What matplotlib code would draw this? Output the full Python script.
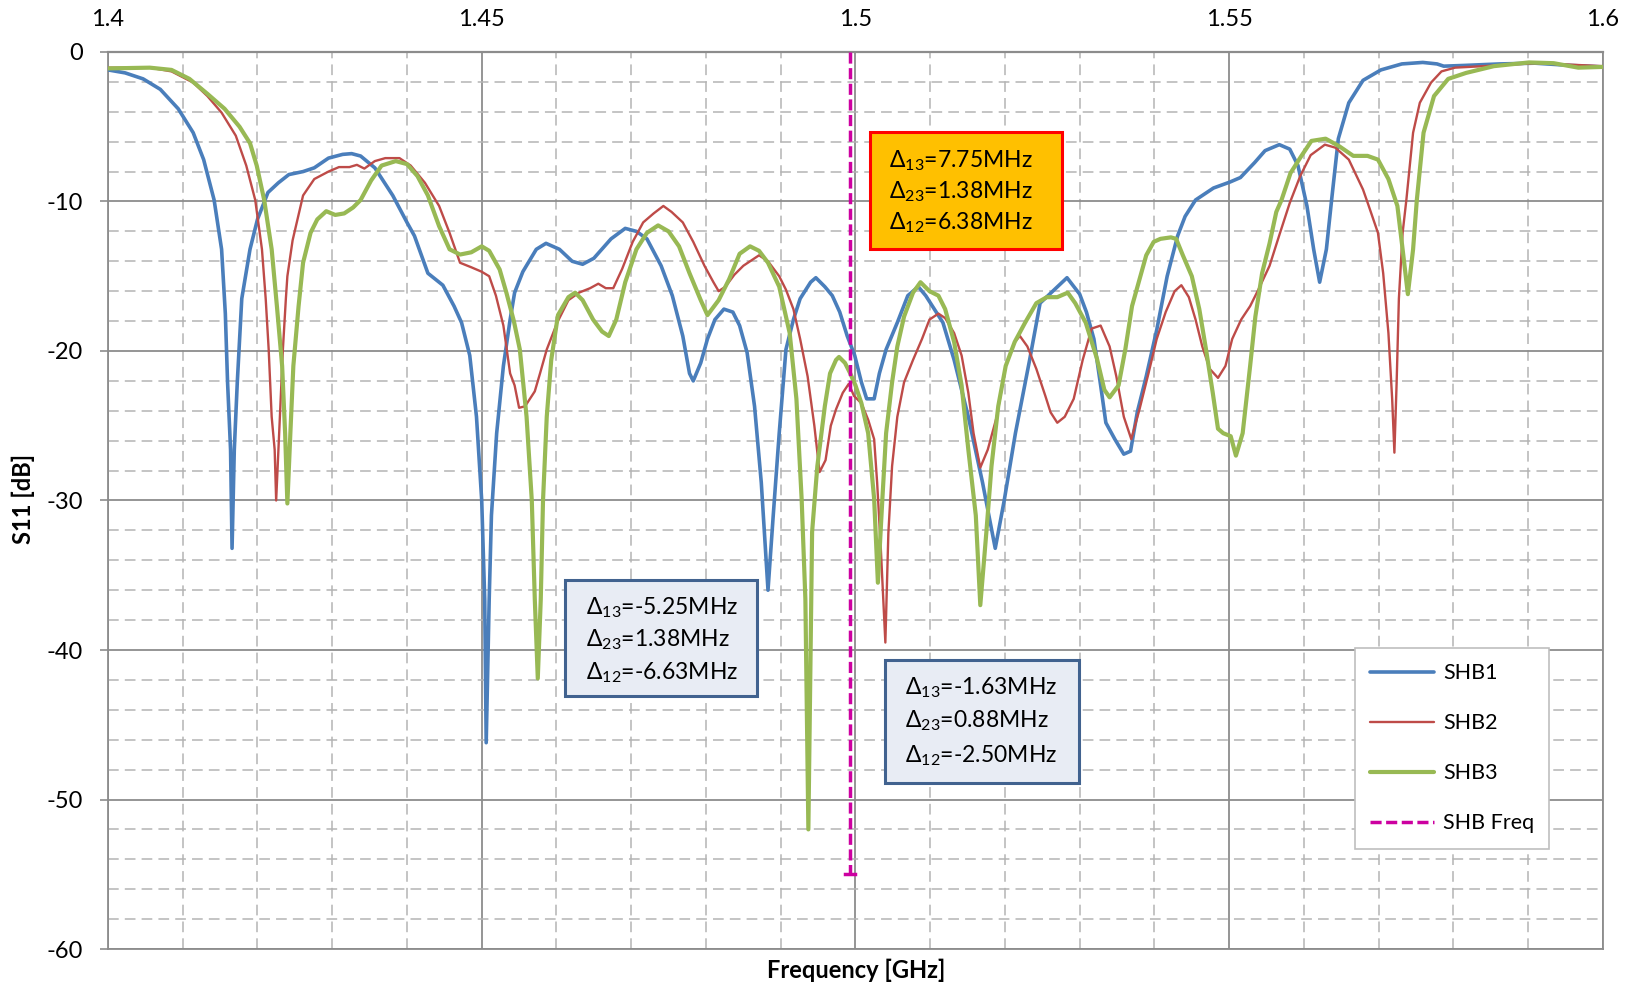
import numpy as np
import matplotlib
matplotlib.use('Agg')
import matplotlib.pyplot as plt
from matplotlib.patches import Rectangle
from matplotlib.ticker import MultipleLocator

plt.rcParams['font.family'] = ['Lato', 'DejaVu Sans']
plt.rcParams['axes.unicode_minus'] = False
plt.rcParams['mathtext.fontset'] = 'custom'
plt.rcParams['mathtext.rm'] = 'Lato'
plt.rcParams['mathtext.it'] = 'Lato'

# --- measured S11 curves (frequency in GHz, S11 in dB) ---
f_shb1 = [1.4000, 1.4023, 1.4047, 1.4070, 1.4094, 1.4114, 1.4128, 1.4142, 1.4152, 1.4157,
          1.4160, 1.4164, 1.4166, 1.4169, 1.4173, 1.4179, 1.4190, 1.4200, 1.4214, 1.4228,
          1.4242, 1.4261, 1.4276, 1.4295, 1.4314, 1.4326, 1.4338, 1.4357, 1.4381, 1.4400,
          1.4410, 1.4428, 1.4448, 1.4463, 1.4473, 1.4484, 1.4493, 1.4500, 1.4504, 1.4506,
          1.4510, 1.4513, 1.4520, 1.4529, 1.4538, 1.4544, 1.4555, 1.4573, 1.4586, 1.4604,
          1.4621, 1.4635, 1.4650, 1.4673, 1.4692, 1.4707, 1.4721, 1.4740, 1.4755, 1.4769,
          1.4778, 1.4783, 1.4793, 1.4802, 1.4812, 1.4824, 1.4836, 1.4845, 1.4855, 1.4865,
          1.4874, 1.4883, 1.4890, 1.4898, 1.4907, 1.4917, 1.4926, 1.4940, 1.4947, 1.4959,
          1.4969, 1.4979, 1.4989, 1.4999, 1.5008, 1.5015, 1.5025, 1.5032, 1.5041, 1.5056,
          1.5070, 1.5084, 1.5094, 1.5103, 1.5117, 1.5132, 1.5151, 1.5170, 1.5187, 1.5199,
          1.5214, 1.5233, 1.5247, 1.5266, 1.5283, 1.5300, 1.5309, 1.5319, 1.5328, 1.5335,
          1.5347, 1.5359, 1.5368, 1.5377, 1.5389, 1.5403, 1.5417, 1.5431, 1.5441, 1.5455,
          1.5479, 1.5501, 1.5515, 1.5534, 1.5548, 1.5567, 1.5581, 1.5592, 1.5604, 1.5613,
          1.5621, 1.5630, 1.5637, 1.5646, 1.5660, 1.5679, 1.5703, 1.5731, 1.5759, 1.5778,
          1.5787, 1.5815, 1.5862, 1.5909, 1.5956, 1.6000]
s_shb1 = [-1.2, -1.4, -1.8, -2.5, -3.8, -5.4, -7.2, -9.9, -13.2, -17.5,
          -22.1, -26.6, -33.2, -26.6, -22.1, -16.5, -13.2, -11.2, -9.4, -8.75,
          -8.2, -8.0, -7.75, -7.1, -6.85, -6.8, -6.96, -7.75, -9.6, -11.4,
          -12.3, -14.8, -15.6, -17.0, -18.1, -20.3, -24.4, -30.0, -36.6, -46.2,
          -36.6, -31.0, -25.5, -21.0, -17.9, -16.1, -14.7, -13.2, -12.8, -13.2,
          -14.0, -14.2, -13.8, -12.5, -11.8, -12.0, -12.5, -14.3, -16.3, -19.0,
          -21.5, -22.0, -20.8, -19.2, -17.9, -17.2, -17.4, -18.3, -20.1, -23.7,
          -28.8, -36.0, -31.0, -25.5, -19.9, -17.9, -16.5, -15.4, -15.1, -15.7,
          -16.3, -17.4, -19.0, -20.3, -22.1, -23.2, -23.2, -21.5, -19.9, -18.1,
          -16.3, -15.7, -16.3, -17.0, -18.1, -20.6, -24.4, -28.8, -33.2, -30.0,
          -25.5, -20.6, -16.8, -15.9, -15.1, -16.2, -17.4, -19.2, -22.3, -24.8,
          -25.9, -26.9, -26.7, -24.1, -21.7, -18.6, -15.0, -12.3, -11.0, -9.9,
          -9.1, -8.7, -8.4, -7.4, -6.6, -6.2, -6.5, -7.6, -10.3, -13.2,
          -15.4, -13.2, -9.9, -5.8, -3.4, -1.9, -1.2, -0.8, -0.7, -0.8,
          -0.95, -0.9, -0.8, -0.75, -0.9, -1.0]

f_shb2 = [1.4000, 1.4056, 1.4085, 1.4114, 1.4133, 1.4152, 1.4171, 1.4185, 1.4197, 1.4206,
          1.4211, 1.4215, 1.4219, 1.4223, 1.4225, 1.4231, 1.4234, 1.4238, 1.4240, 1.4247,
          1.4261, 1.4276, 1.4295, 1.4309, 1.4323, 1.4333, 1.4343, 1.4357, 1.4371, 1.4390,
          1.4405, 1.4424, 1.4443, 1.4457, 1.4471, 1.4486, 1.4500, 1.4510, 1.4519, 1.4529,
          1.4538, 1.4544, 1.4550, 1.4558, 1.4567, 1.4571, 1.4578, 1.4587, 1.4601, 1.4616,
          1.4630, 1.4645, 1.4656, 1.4666, 1.4676, 1.4688, 1.4702, 1.4716, 1.4730, 1.4743,
          1.4754, 1.4769, 1.4783, 1.4798, 1.4810, 1.4817, 1.4826, 1.4838, 1.4850, 1.4862,
          1.4871, 1.4883, 1.4898, 1.4907, 1.4917, 1.4926, 1.4936, 1.4945, 1.4952, 1.4960,
          1.4967, 1.4974, 1.4983, 1.4991, 1.4998, 1.5008, 1.5017, 1.5025, 1.5029, 1.5034,
          1.5040, 1.5044, 1.5049, 1.5056, 1.5065, 1.5077, 1.5089, 1.5099, 1.5111, 1.5120,
          1.5132, 1.5142, 1.5151, 1.5158, 1.5167, 1.5177, 1.5189, 1.5201, 1.5213, 1.5220,
          1.5230, 1.5242, 1.5254, 1.5261, 1.5270, 1.5280, 1.5292, 1.5304, 1.5316, 1.5328,
          1.5340, 1.5349, 1.5359, 1.5369, 1.5380, 1.5392, 1.5403, 1.5415, 1.5427, 1.5436,
          1.5446, 1.5455, 1.5464, 1.5474, 1.5485, 1.5495, 1.5504, 1.5516, 1.5528, 1.5539,
          1.5554, 1.5568, 1.5581, 1.5595, 1.5609, 1.5628, 1.5642, 1.5660, 1.5679, 1.5686,
          1.5699, 1.5706, 1.5713, 1.5718, 1.5721, 1.5724, 1.5727, 1.5732, 1.5737, 1.5746,
          1.5755, 1.5770, 1.5784, 1.5802, 1.5840, 1.5910, 1.5957, 1.6000]
s_shb2 = [-1.05, -1.05, -1.3, -2.05, -2.95, -4.06, -5.6, -7.6, -9.9, -13.2,
          -16.5, -19.9, -24.4, -26.6, -30.0, -23.2, -19.9, -16.5, -15.0, -12.6,
          -9.6, -8.5, -8.0, -7.7, -7.7, -7.55, -7.8, -7.3, -7.1, -7.1,
          -7.6, -8.75, -10.3, -12.1, -14.1, -14.4, -14.7, -15.0, -16.3, -18.3,
          -21.5, -22.3, -23.8, -23.7, -23.0, -22.7, -21.5, -19.9, -18.1, -16.6,
          -16.1, -15.8, -15.5, -15.8, -15.8, -14.5, -12.7, -11.4, -10.8, -10.3,
          -10.7, -11.4, -12.7, -14.3, -15.4, -16.0, -15.7, -14.9, -14.3, -13.9,
          -13.6, -14.0, -15.0, -15.9, -17.2, -19.2, -21.7, -25.0, -28.1, -27.3,
          -25.0, -23.9, -22.8, -22.2, -23.0, -23.5, -24.6, -25.9, -28.8, -33.3,
          -39.5, -32.2, -27.7, -24.4, -22.1, -20.6, -19.2, -17.9, -17.5, -17.8,
          -18.8, -20.3, -22.8, -25.5, -27.8, -26.6, -24.4, -21.0, -19.4, -19.0,
          -19.7, -21.2, -23.0, -24.1, -24.8, -24.4, -23.2, -20.6, -18.5, -18.3,
          -19.7, -21.7, -24.4, -25.9, -23.9, -21.5, -19.2, -17.4, -16.0, -15.6,
          -16.4, -17.9, -19.7, -21.2, -21.8, -21.0, -19.2, -17.9, -17.0, -15.9,
          -14.3, -12.1, -10.1, -8.3, -6.9, -6.2, -6.4, -7.2, -9.2, -10.2,
          -12.1, -14.8, -18.8, -23.2, -26.8, -22.1, -16.5, -12.1, -9.9, -5.4,
          -3.4, -2.05, -1.3, -1.05, -0.95, -0.75, -0.85, -0.95]

f_shb3 = [1.4000, 1.4056, 1.4085, 1.4109, 1.4133, 1.4156, 1.4176, 1.4190, 1.4199, 1.4209,
          1.4219, 1.4226, 1.4233, 1.4237, 1.4240, 1.4244, 1.4248, 1.4255, 1.4261, 1.4271,
          1.4280, 1.4292, 1.4304, 1.4316, 1.4328, 1.4338, 1.4352, 1.4366, 1.4385, 1.4400,
          1.4414, 1.4428, 1.4443, 1.4457, 1.4471, 1.4486, 1.4500, 1.4510, 1.4524, 1.4533,
          1.4543, 1.4551, 1.4560, 1.4567, 1.4571, 1.4575, 1.4579, 1.4582, 1.4587, 1.4593,
          1.4602, 1.4616, 1.4625, 1.4635, 1.4649, 1.4661, 1.4670, 1.4680, 1.4692, 1.4707,
          1.4721, 1.4736, 1.4750, 1.4764, 1.4778, 1.4793, 1.4802, 1.4817, 1.4831, 1.4845,
          1.4859, 1.4871, 1.4883, 1.4898, 1.4912, 1.4921, 1.4928, 1.4933, 1.4937, 1.4942,
          1.4949, 1.4959, 1.4966, 1.4974, 1.4978, 1.4986, 1.4993, 1.5000, 1.5008, 1.5017,
          1.5025, 1.5030, 1.5036, 1.5041, 1.5049, 1.5056, 1.5065, 1.5077, 1.5087, 1.5099,
          1.5111, 1.5120, 1.5132, 1.5142, 1.5151, 1.5161, 1.5167, 1.5175, 1.5182, 1.5191,
          1.5201, 1.5213, 1.5227, 1.5242, 1.5256, 1.5270, 1.5284, 1.5294, 1.5308, 1.5323,
          1.5333, 1.5340, 1.5352, 1.5361, 1.5370, 1.5380, 1.5389, 1.5399, 1.5408, 1.5422,
          1.5429, 1.5438, 1.5450, 1.5460, 1.5469, 1.5478, 1.5485, 1.5492, 1.5502, 1.5509,
          1.5518, 1.5528, 1.5535, 1.5544, 1.5554, 1.5563, 1.5570, 1.5582, 1.5596, 1.5610,
          1.5629, 1.5647, 1.5666, 1.5685, 1.5699, 1.5713, 1.5725, 1.5732, 1.5739, 1.5746,
          1.5751, 1.5760, 1.5774, 1.5793, 1.5817, 1.5854, 1.5901, 1.5934, 1.5967, 1.6000]
s_shb3 = [-1.1, -1.05, -1.2, -1.8, -2.8, -3.8, -5.0, -6.1, -7.6, -9.9,
          -13.2, -17.0, -21.0, -25.5, -30.2, -25.5, -21.0, -17.0, -14.1, -12.1,
          -11.2, -10.65, -10.9, -10.8, -10.4, -9.9, -8.6, -7.6, -7.3, -7.5,
          -8.3, -9.6, -11.65, -13.2, -13.55, -13.4, -13.0, -13.3, -14.55, -16.1,
          -18.0, -19.9, -24.4, -30.0, -36.6, -41.9, -36.6, -30.0, -24.4, -20.6,
          -17.6, -16.4, -16.1, -16.6, -17.9, -18.7, -19.0, -17.9, -15.4, -13.2,
          -12.1, -11.6, -12.0, -13.0, -14.8, -16.6, -17.6, -16.6, -15.2, -13.5,
          -13.0, -13.3, -14.1, -15.7, -18.8, -23.2, -29.9, -36.6, -52.0, -32.1,
          -27.7, -23.7, -21.5, -20.6, -20.4, -20.8, -21.5, -22.3, -23.5, -25.5,
          -29.9, -35.5, -29.9, -25.5, -22.1, -19.7, -17.7, -16.1, -15.4, -16.0,
          -16.3, -17.2, -19.4, -22.3, -26.6, -31.0, -37.0, -32.2, -27.7, -23.7,
          -21.0, -19.4, -18.1, -16.8, -16.4, -16.4, -16.1, -16.8, -18.1, -20.5,
          -22.6, -23.1, -22.3, -19.9, -17.0, -15.2, -13.6, -12.7, -12.5, -12.4,
          -12.5, -13.6, -15.0, -17.2, -19.9, -22.8, -25.2, -25.5, -25.7, -27.0,
          -25.5, -21.0, -17.7, -14.8, -12.8, -10.7, -9.9, -8.1, -7.0, -5.95,
          -5.8, -6.3, -6.95, -6.95, -7.2, -8.5, -10.3, -13.2, -16.2, -13.2,
          -9.9, -5.4, -2.95, -1.8, -1.4, -0.95, -0.7, -0.75, -1.05, -1.0]

shb_freq = 1.4993
shb_freq_span = [0, -55]

# text boxes: frequency offsets shown in each box
box_texts = [
    ['Δ$_{13}$=7.75MHz', 'Δ$_{23}$=1.38MHz', 'Δ$_{12}$=6.38MHz'],
    ['Δ$_{13}$=-5.25MHz', 'Δ$_{23}$=1.38MHz', 'Δ$_{12}$=-6.63MHz'],
    ['Δ$_{13}$=-1.63MHz', 'Δ$_{23}$=0.88MHz', 'Δ$_{12}$=-2.50MHz'],
]

fig = plt.figure(figsize=(16.31, 9.86), dpi=100)
ax = fig.add_axes([0.0662, 0.0375, 0.9166, 0.9098])

grid_major = '#8C8C8C'
grid_minor = '#B4B4B4'

ax.set_xlim(1.4, 1.6)
ax.set_ylim(-60, 0)
ax.xaxis.set_minor_locator(MultipleLocator(0.01))
ax.yaxis.set_major_locator(MultipleLocator(10))
ax.yaxis.set_minor_locator(MultipleLocator(2))
ax.xaxis.tick_top()
ax.set_xticks([1.4, 1.45, 1.5, 1.55, 1.6])
ax.set_xticklabels(['1.4', '1.45', '1.5', '1.55', '1.6'])
ax.tick_params(axis='x', which='both', length=0, pad=16, labelsize=17)
ax.tick_params(axis='y', which='major', length=6, width=1.2, color=grid_major,
               pad=12, labelsize=17, direction='out')
ax.tick_params(axis='y', which='minor', length=0)

ax.grid(True, which='major', color=grid_major, lw=1.3, ls='-', zorder=0)
ax.grid(True, which='minor', color=grid_minor, lw=1.1, ls=(0, (7, 4)), zorder=0)
ax.set_axisbelow(True)
for sp in ax.spines.values():
    sp.set_color(grid_major)
    sp.set_linewidth(1.3)
ax.spines['top'].set_linewidth(1.6)

# curves
ax.plot(f_shb1, s_shb1, color='#4A7EBB', lw=2.6, label='SHB1',
        solid_joinstyle='round', solid_capstyle='round', zorder=3)
ax.plot(f_shb2, s_shb2, color='#BE4B48', lw=1.7, label='SHB2',
        solid_joinstyle='round', solid_capstyle='round', zorder=4)
ax.plot(f_shb3, s_shb3, color='#98B954', lw=3.0, label='SHB3',
        solid_joinstyle='round', solid_capstyle='round', zorder=5)
ax.plot([shb_freq, shb_freq], shb_freq_span, color='#CC00A0', lw=2.5,
        dashes=(3.2, 1.3), label='SHB Freq', zorder=6)
ax.plot([shb_freq - 0.0007, shb_freq + 0.0007], [shb_freq_span[1]] * 2,
        color='#CC00A0', lw=2.5, zorder=6)

# annotation boxes
boxes = [
    dict(rect=(1.5019, -13.2, 0.0257, 7.84), fc='#FFC000', ec='#FF0000',
         tx=1.5045, ty=[-7.24, -9.33, -11.4]),
    dict(rect=(1.4612, -43.1, 0.0256, 7.75), fc='#E8ECF4', ec='#41628F',
         tx=1.4639, ty=[-37.2, -39.3, -41.5]),
    dict(rect=(1.5040, -48.9, 0.0259, 8.2), fc='#E8ECF4', ec='#41628F',
         tx=1.5066, ty=[-42.5, -44.7, -47.1]),
]
for b, lines in zip(boxes, box_texts):
    x, y, w, h = b['rect']
    ax.add_patch(Rectangle((x, y), w, h, facecolor=b['fc'], edgecolor=b['ec'],
                           lw=2.2, zorder=8))
    for ty, line in zip(b['ty'], lines):
        ax.text(b['tx'], ty, line, fontsize=16.5, va='center', ha='left', zorder=9)

leg = ax.legend(loc='upper left', bbox_to_anchor=(0.834, 0.3356), fontsize=15.5,
                handlelength=3.0, labelspacing=1.4, borderpad=0.7,
                handletextpad=0.4, fancybox=False, framealpha=1, edgecolor='#BFBFBF',
                borderaxespad=0)
leg.get_frame().set_linewidth(1.2)
leg.set_zorder(10)

fig.text(856 / 1631, 1 - 970 / 986, 'Frequency [GHz]', fontsize=17, fontweight='bold',
         ha='center', va='center')
fig.text(23 / 1631, 1 - 499 / 986, 'S11 [dB]', fontsize=17, fontweight='bold',
         ha='center', va='center', rotation=90)

fig.savefig('out.png', dpi=100)
